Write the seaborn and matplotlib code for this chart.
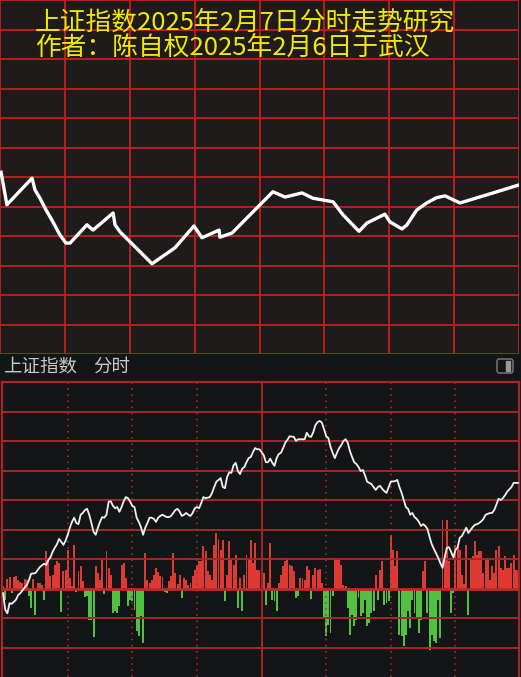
import numpy as np
import pandas as pd
import matplotlib
matplotlib.use("Agg")
import matplotlib.pyplot as plt
import seaborn as sns
from matplotlib.patches import FancyBboxPatch, Rectangle

# top panel: hand drawn forecast (minute of session, index points)
plan_min = [0.5, 3.2, 14.8, 16.2, 18.5, 21.3, 24.0, 27.7, 30.5, 32.4, 40.2, 43.0,
            52.3, 53.2, 55.5, 70.3, 80.9, 89.7, 93.4, 101.3, 101.7, 107.3, 126.2,
            131.8, 139.7, 144.7, 154.0, 158.6, 166.0, 169.7, 178.0, 180.3, 185.9,
            188.2, 192.7, 197.3, 201.9, 205.8, 212.7, 229.8, 239.5]
plan_pts = [3280.8, 3275.3, 3279.8, 3277.8, 3276.4, 3274.4, 3272.7, 3270.2, 3268.8,
            3268.8, 3271.9, 3271.0, 3273.9, 3271.9, 3270.7, 3265.3, 3268.0, 3271.7,
            3269.7, 3271.0, 3269.8, 3270.5, 3277.5, 3276.6, 3277.3, 3276.4, 3275.8,
            3273.6, 3270.8, 3272.2, 3273.7, 3272.4, 3271.2, 3271.9, 3274.4, 3275.6,
            3276.5, 3276.8, 3275.6, 3277.5, 3278.6]

# bottom panel: intraday index (minute, points)
price_min = [0, 1, 2, 3, 4, 6, 7, 8, 9, 11, 12, 13, 15, 16, 17, 19, 20, 21, 22, 23,
             24, 25, 26, 27, 28, 29, 30, 31, 32, 33, 34, 35, 36, 37, 38, 39, 40, 41,
             42, 43, 44, 45, 46, 47, 48, 49, 50, 51, 52, 53, 54, 55, 56, 57, 58, 59,
             60, 61, 62, 63, 64, 65, 66, 67, 68, 69, 70, 71, 72, 73, 74, 76, 77, 78,
             79, 80, 81, 82, 83, 84, 85, 86, 87, 88, 89, 90, 91, 92, 93, 94, 96, 97,
             98, 99, 100, 101, 102, 103, 104, 105, 106, 107, 108, 109, 110, 111, 112,
             113, 114, 115, 116, 117, 118, 119, 121, 122, 123, 124, 125, 126, 127,
             128, 129, 130, 131, 132, 133, 135, 136, 137, 139, 140, 141, 142, 143,
             144, 145, 146, 147, 148, 149, 150, 151, 152, 153, 154, 155, 156, 157,
             158, 159, 160, 161, 162, 163, 164, 165, 166, 167, 168, 169, 171, 172,
             173, 174, 175, 176, 177, 178, 179, 180, 182, 183, 184, 185, 186, 187,
             188, 189, 190, 191, 192, 193, 194, 195, 196, 197, 198, 199, 200, 202,
             203, 204, 205, 206, 207, 208, 209, 210, 211, 212, 213, 214, 215, 216,
             217, 218, 219, 220, 221, 222, 223, 224, 226, 227, 228, 229, 230, 231,
             232, 233, 234, 236, 237, 238, 239]
price = [3274.2, 3271.4, 3270.8, 3272.5, 3272.4, 3273.1, 3273.9, 3274.2, 3274.7,
         3275.6, 3276.4, 3277.5, 3277.6, 3278.1, 3278.6, 3279.2, 3279.0, 3279.8,
         3280.3, 3281.2, 3281.9, 3282.5, 3283.4, 3282.9, 3282.4, 3283.1, 3284.1,
         3285.3, 3286.3, 3287.0, 3286.1, 3285.9, 3287.5, 3287.8, 3288.3, 3288.5,
         3287.5, 3286.1, 3284.6, 3284.1, 3285.3, 3286.3, 3287.1, 3287.0, 3287.5,
         3289.7, 3289.8, 3289.0, 3288.6, 3288.8, 3288.0, 3288.8, 3289.8, 3290.5,
         3290.3, 3289.7, 3289.0, 3288.8, 3287.0, 3286.3, 3285.4, 3284.1, 3285.3,
         3286.1, 3287.0, 3287.0, 3286.8, 3286.3, 3287.0, 3287.3, 3287.5, 3287.1,
         3287.1, 3287.3, 3287.8, 3288.3, 3288.5, 3288.0, 3287.3, 3287.5, 3287.8,
         3287.5, 3287.3, 3287.8, 3288.6, 3288.8, 3288.6, 3289.5, 3290.5, 3290.3,
         3290.5, 3291.2, 3292.2, 3293.1, 3293.4, 3293.7, 3292.2, 3292.0, 3293.9,
         3294.7, 3294.6, 3295.9, 3296.3, 3294.9, 3294.4, 3295.3, 3295.6, 3296.4,
         3297.1, 3297.3, 3298.1, 3298.8, 3298.6, 3298.6, 3297.6, 3296.4, 3296.4,
         3297.0, 3296.3, 3295.8, 3297.1, 3297.8, 3298.0, 3298.8, 3299.7, 3300.2,
         3300.8, 3300.7, 3300.0, 3300.3, 3300.3, 3300.3, 3301.4, 3300.8, 3300.7,
         3301.5, 3302.7, 3303.2, 3303.4, 3303.1, 3302.0, 3300.8, 3300.5, 3299.0,
         3298.0, 3297.1, 3298.0, 3298.8, 3299.3, 3300.0, 3300.3, 3299.7, 3298.3,
         3297.3, 3296.4, 3296.1, 3295.6, 3294.9, 3295.1, 3294.2, 3293.1, 3292.7,
         3292.2, 3291.7, 3292.2, 3292.4, 3291.9, 3291.5, 3291.2, 3292.2, 3293.1,
         3293.2, 3293.4, 3292.2, 3291.2, 3290.0, 3288.8, 3288.5, 3287.5, 3287.8,
         3287.1, 3286.8, 3286.3, 3285.6, 3285.9, 3285.6, 3285.1, 3283.7, 3282.5,
         3281.7, 3280.2, 3279.3, 3278.5, 3280.3, 3281.9, 3282.0, 3281.2, 3280.3,
         3281.5, 3282.0, 3283.6, 3283.9, 3284.6, 3285.3, 3284.4, 3284.9, 3285.4,
         3285.8, 3285.9, 3286.1, 3286.4, 3286.8, 3287.5, 3287.8, 3287.8, 3288.3,
         3289.2, 3290.2, 3290.0, 3290.3, 3290.8, 3291.4, 3292.2, 3292.9, 3292.9,
         3292.9]

# signed volume per minute (up = red, down = green)
vol = [3, -11, 10, 12, -4, 12, 13, 9, 7, 6, 10, 9, -7, -19, 10, -26, 6, 6, 4, -11,
       38, 29, 13, 14, 24, 28, 26, -23, 18, 19, 39, 11, 3, 44, -3, 18, 23, 8, -8, -7,
       -31, -31, -48, 23, 16, 9, 29, -5, 38, 21, 14, -24, -22, -24, -17, 24, 26, 11, -17, -11,
       -12, -21, -42, -47, -27, -54, 36, 9, 6, 9, 14, 21, 17, 13, 12, -3, -4, 8, 13, 36,
       16, 5, 14, -9, 11, 9, 4, 6, 13, 19, 24, 28, 28, 43, 38, 18, 14, 9, 44, 56,
       50, 39, 49, -12, 14, 48, 29, 24, 34, -19, 11, -22, 14, 34, 31, 49, 26, 46, 19, 19,
       19, 16, -16, 6, 46, -11, -12, -22, 6, 14, 23, 28, 31, 24, 23, 18, -9, -7, 11, 11,
       9, 23, 19, -10, 14, 21, 19, 20, 6, -29, -47, -36, -44, -7, 31, 29, 29, 24, 4, 3,
       -19, -46, -26, -37, -31, -9, -27, -24, -11, -37, -34, -24, -22, 14, -11, 19, 28, -16, -14, -12,
       54, 39, 23, 38, -46, -47, -57, -46, -22, -39, -11, -24, -29, -44, -31, 18, 28, -24, -61, -46,
       -52, -54, -11, -49, 69, 33, 69, 28, -24, -4, 44, 43, 39, 14, 5, 44, -26, 31, 33, 48,
       34, 38, 38, 16, 29, 29, 9, 23, 16, 39, 43, 21, 19, 33, 21, 21, 26, 34, 19, 19]

title1 = "上证指数2025年2月7日分时走势研究"
title2 = "作者：陈自权2025年2月6日于武汉"

plt.rcParams['font.family'] = ['Noto Sans CJK SC', 'DejaVu Sans']

W, H = 521, 677
fig = plt.figure(figsize=(W / 100, H / 100), dpi=100, facecolor='#141517')

top_bg = '#1f1b1a'
bot_bg = '#141517'
red_grid = '#c41f1f'
red_grid2 = '#a82626'


def clean(ax):
    for s in ax.spines.values():
        s.set_visible(False)
    ax.set_xticks([])
    ax.set_yticks([])
    ax.set_xlabel('')
    ax.set_ylabel('')


# ---- top panel
ax_top = fig.add_axes([0, (H - 354) / H, 519 / W, 354 / H])
ax_top.set_facecolor(top_bg)
for m in range(0, 241, 30):
    ax_top.axvline(m, color=red_grid, lw=1.3, zorder=1)
for p in np.arange(3250, 3311, 5):
    ax_top.axhline(p, color=red_grid, lw=1.3, zorder=1)
sns.lineplot(x=plan_min, y=plan_pts, ax=ax_top, color='white', linewidth=2.4, zorder=3)
ax_top.set_xlim(0, 240)
ax_top.set_ylim(3250, 3310)
clean(ax_top)

fig.text(35 / W, 1 - 23 / H, title1, color='#f0ea00', fontsize=18.5, va='center', ha='left')
fig.text(35 / W, 1 - 48 / H, title2, color='#f0ea00', fontsize=18.5, va='center', ha='left')

# ---- header strip
fig.text(3 / W, 1 - 366.5 / H, "上证指数", color='#c8c8c8', fontsize=13.3, va='center')
fig.text(93 / W, 1 - 366.5 / H, "分时", color='#c8c8c8', fontsize=13.3, va='center')
fig.patches.append(FancyBboxPatch((497 / W, 1 - 373 / H), 16 / W, 14 / H,
                                  boxstyle="round,pad=0,rounding_size=0.004",
                                  transform=fig.transFigure, fill=False,
                                  edgecolor='#6e6e6e', lw=1.2))
fig.patches.append(Rectangle((506 / W, 1 - 371 / H), 4 / W, 10 / H,
                             transform=fig.transFigure, color='#9a9a9a'))

# ---- bottom panel: volume bars underneath
pos = [2 / W, 0, 517 / W, 295 / H]
ax_vol = fig.add_axes(pos)
ax_vol.set_facecolor(bot_bg)
vol_df = pd.DataFrame({'minute': np.arange(len(vol)), 'vol': vol})
bar_colors = np.where(vol_df['vol'] >= 0, '#dc3a33', '#52c041')
ax_vol.bar(vol_df['minute'], vol_df['vol'], width=0.9, color=bar_colors,
           linewidth=0, antialiased=False, zorder=2)
ax_vol.set_xlim(-0.5, 239.5)
ax_vol.set_ylim(-88.5, 206.5)
clean(ax_vol)

# price grid and line on top
ax_bot = fig.add_axes(pos)
ax_bot.patch.set_visible(False)
for p in np.arange(3265, 3310, 5):
    lw = 2.0 if p == 3275 else 1.4
    col = '#c02828' if p == 3275 else red_grid2
    ax_bot.axhline(p, color=col, lw=lw, zorder=1)
for m in [30, 60, 90, 150, 180, 210]:
    ax_bot.axvline(m, color='#b83030', lw=1.1, ls=(0, (1, 3)), zorder=1)
ax_bot.axvline(120, color=red_grid2, lw=1.4, zorder=1)
sns.lineplot(x=price_min, y=price, ax=ax_bot, color='#f0f0f0', linewidth=1.3, zorder=3)
ax_bot.set_xlim(-0.5, 239.5)
ax_bot.set_ylim(3260, 3310)
clean(ax_bot)
for side in ['left', 'top', 'right']:
    ax_bot.spines[side].set_visible(True)
    ax_bot.spines[side].set_color(red_grid2)
    ax_bot.spines[side].set_linewidth(1.6)

fig.savefig('out.png', dpi=100, facecolor=fig.get_facecolor())
